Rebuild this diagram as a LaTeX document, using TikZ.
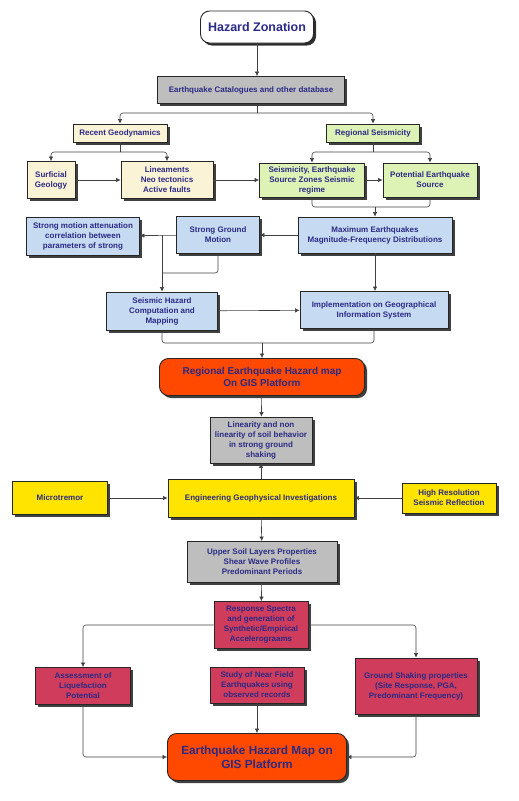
\documentclass[tikz,border=0pt]{standalone}
\usepackage{fontspec}
\setmainfont{Liberation Sans}
\usetikzlibrary{shadows,arrows.meta}
\definecolor{ink}{HTML}{2B2A85}
\definecolor{cream}{HTML}{FBF3D6}
\definecolor{leaf}{HTML}{DDF3B5}
\definecolor{sky}{HTML}{C6DAF2}
\definecolor{stone}{HTML}{BEBEBE}
\definecolor{lemon}{HTML}{FFE400}
\definecolor{rose}{HTML}{D03C5C}
\definecolor{flame}{HTML}{FF4800}
\begin{document}
\begin{tikzpicture}[x=1pt,y=-1pt,
    box/.style={draw=black!85,line width=0.9pt,align=center,text=ink,
      font=\bfseries\fontsize{8}{10}\selectfont,inner sep=1pt,
      drop shadow={shadow xshift=2.5pt,shadow yshift=-2.5pt,fill=black,opacity=0.75}},
    roundbox/.style={box,rounded corners=9pt},
    link/.style={draw=black!75,line width=0.6pt,rounded corners=3pt},
    arr/.style={link,-{Latex[length=4.5pt,width=4.5pt]}}]
  \useasboundingbox (0,0) rectangle (519,801);

  \node[roundbox,fill=white,minimum width=113pt,minimum height=32pt,font=\bfseries\fontsize{12.5}{14}\selectfont,drop shadow={shadow xshift=2pt,shadow yshift=-2pt,fill=black,opacity=0.3}] (zone) at (257,27) {Hazard Zonation};
  \node[box,fill=stone,minimum width=187pt,minimum height=27pt] (cat) at (251,90) {Earthquake Catalogues and other database};
  \node[box,fill=cream,minimum width=94pt,minimum height=18pt] (recent) at (120,133) {Recent Geodynamics};
  \node[box,fill=leaf,minimum width=93pt,minimum height=18pt] (regional) at (373,133) {Regional Seismicity};
  \node[box,fill=cream,minimum width=48pt,minimum height=37pt] (surf) at (51,180) {Surficial\\Geology};
  \node[box,fill=cream,minimum width=92pt,minimum height=37pt] (linea) at (167,180) {Lineaments\\Neo tectonics\\Active faults};
  \node[box,fill=leaf,minimum width=105pt,minimum height=34pt] (seis) at (312,180) {Seismicity, Earthquake\\Source Zones Seismic\\regime};
  \node[box,fill=leaf,minimum width=94pt,minimum height=34pt] (pot) at (430,180) {Potential Earthquake\\Source};
  \node[box,fill=sky,minimum width=113pt,minimum height=38pt] (atten) at (83,236) {Strong motion attenuation\\correlation between\\parameters of strong};
  \node[box,fill=sky,minimum width=83pt,minimum height=37pt] (sgm) at (218,235) {Strong Ground\\Motion};
  \node[box,fill=sky,minimum width=154pt,minimum height=36pt] (maxeq) at (375,235) {Maximum Earthquakes\\Magnitude-Frequency Distributions};
  \node[box,fill=sky,minimum width=111pt,minimum height=38pt] (shc) at (162,311) {Seismic Hazard\\Computation and\\Mapping};
  \node[box,fill=sky,minimum width=148pt,minimum height=37pt] (impl) at (374,310) {Implementation on Geographical\\Information System};
  \node[roundbox,fill=flame,minimum width=205pt,minimum height=37pt,font=\bfseries\fontsize{10}{12.5}\selectfont] (regmap) at (262,377) {Regional Earthquake Hazard map\\On GIS Platform};
  \node[box,fill=stone,minimum width=102pt,minimum height=46pt] (linsoil) at (261,440) {Linearity and non\\linearity of soil behavior\\in strong ground\\shaking};
  \node[box,fill=lemon,minimum width=186pt,minimum height=38pt] (eng) at (261,498) {Engineering Geophysical Investigations};
  \node[box,fill=lemon,minimum width=95pt,minimum height=33pt] (micro) at (60,498) {Microtremor};
  \node[box,fill=lemon,minimum width=94pt,minimum height=30pt] (hires) at (449,498) {High Resolution\\Seismic Reflection};
  \node[box,fill=stone,minimum width=150pt,minimum height=41pt] (soil) at (262,562) {Upper Soil Layers Properties\\Shear Wave Profiles\\Predominant Periods};
  \node[box,fill=rose,minimum width=94pt,minimum height=47pt] (resp) at (261,625) {Response Spectra\\and generation of\\Synthetic/Empirical\\Accelerograams};
  \node[box,fill=rose,minimum width=95pt,minimum height=37pt] (liq) at (83,686) {Assessment of\\Liquefaction\\Potential};
  \node[box,fill=rose,minimum width=94pt,minimum height=36pt] (near) at (257,685) {Study of Near Field\\Earthquakes using\\observed records};
  \node[box,fill=rose,minimum width=122pt,minimum height=56pt] (shake) at (416,686) {Ground Shaking properties\\(Site Response, PGA,\\Predominant Frequency)};
  \node[roundbox,fill=flame,minimum width=179pt,minimum height=47pt,font=\bfseries\fontsize{11.8}{14}\selectfont] (eqmap) at (257,757) {Earthquake Hazard Map on\\GIS Platform};

  \coordinate (catsplit) at (257,113);
  \coordinate (recsplit) at (120,152);
  \coordinate (regsplit) at (373,152);
  \coordinate (seismerge) at (375,207);
  \coordinate (tap) at (162,235);
  \coordinate (sgmbend) at (162,273);
  \coordinate (gismerge) at (262,343);

  \draw[arr] (zone) to (zone |- cat.north);
  \draw[link] (cat.south -| zone) -- (catsplit); \draw[arr] (catsplit) -| (recent.north); \draw[arr] (catsplit) -| (regional.north);
  \draw[link] (recent) -- (recsplit); \draw[arr] (recsplit) -| (surf.north); \draw[arr] (recsplit) -| (linea.north);
  \draw[link] (regional) -- (regsplit); \draw[arr] (regsplit) -| (seis.north); \draw[arr] (regsplit) -| (pot.north);
  \draw[arr] (surf) to (linea); \draw[arr] (linea) to (seis); \draw[arr] (seis) to (pot);
  \draw[link] (seis.south) |- (seismerge); \draw[link] (pot.south) |- (seismerge); \draw[arr] (seismerge) -- (maxeq.north);
  \draw[arr] (maxeq) to (sgm); \draw[arr] (sgm) to (atten);
  \draw[arr] (tap) -- (shc.north); \draw[link] (sgm.south) |- (sgmbend);
  \draw[arr] (maxeq.south) -- (maxeq.south |- impl.north);
  \draw[arr] (shc) to (impl);
  \draw[link] (shc.south) |- (gismerge); \draw[link] (impl.south) |- (gismerge); \draw[arr] (gismerge) -- (regmap.north);
  \draw[arr] (regmap) to (linsoil);
  \draw[arr] (eng) to (linsoil);
  \draw[arr] (micro) to (eng); \draw[arr] (hires) to (eng);
  \draw[arr] (eng) to (soil);
  \draw[arr] (soil) to (resp);
  \draw[arr] (resp.west) -| (liq.north); \draw[arr] (resp.east) -| (shake.north);
  \draw[arr] (near) to (eqmap);
  \draw[arr] (liq.south) |- (eqmap.west); \draw[arr] (shake.south) |- (eqmap.east);
\end{tikzpicture}
\end{document}
